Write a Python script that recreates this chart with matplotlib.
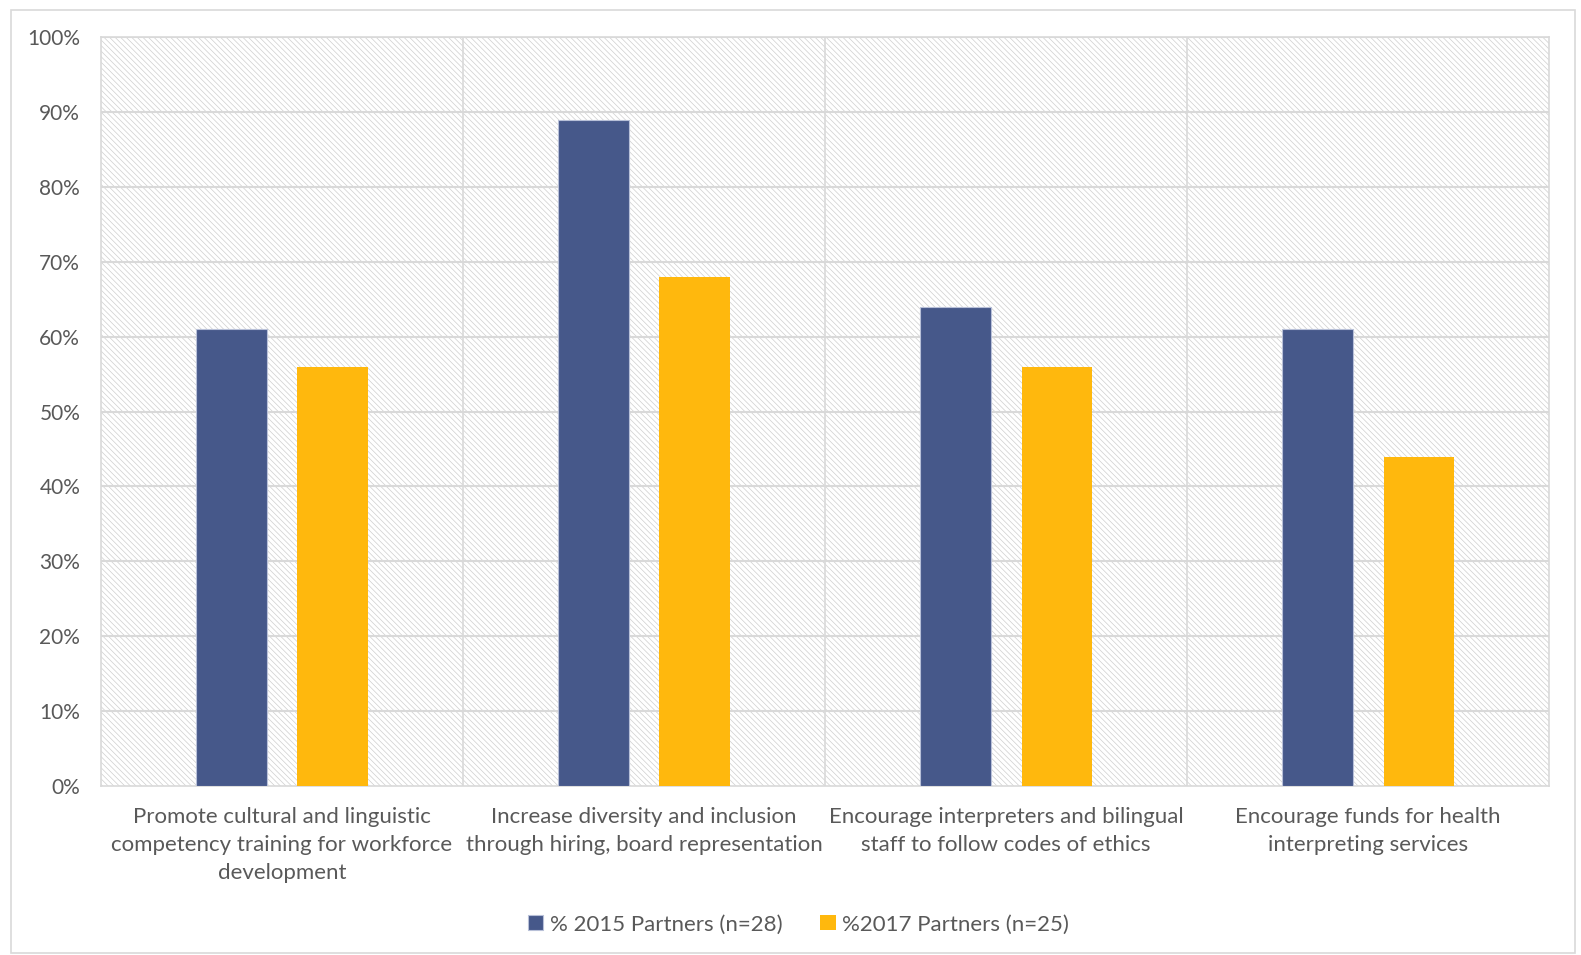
import matplotlib.pyplot as plt
from matplotlib.patches import Rectangle
import numpy as np

plt.rcParams['font.family'] = ['Lato', 'DejaVu Sans']

categories = ["Promote cultural and linguistic\ncompetency training for workforce\ndevelopment",
              "Increase diversity and inclusion\nthrough hiring, board representation",
              "Encourage interpreters and bilingual\nstaff to follow codes of ethics",
              "Encourage funds for health\ninterpreting services"]
pct_2015 = [61, 89, 64, 61]
pct_2017 = [56, 68, 56, 44]
labels = ["% 2015 Partners (n=28)", "%2017 Partners (n=25)"]
colors = ["#46588a", "#ffb80d"]
txt = "#595959"

fig = plt.figure(figsize=(15.81, 9.55), dpi=100)
fig.patches.append(Rectangle((0.007, 0.002), 0.989, 0.988, transform=fig.transFigure,
                             fill=False, edgecolor="#d9d9d9", linewidth=1.2))
ax = fig.add_axes([0.0639, 0.177, 0.916, 0.784])

x = np.arange(len(categories))
w = 0.195
off = 0.14

ax.set_xlim(-0.5, len(categories) - 0.5)
ax.set_ylim(0, 100)

# hatched background
plt.rcParams['hatch.color'] = "#cfcfcf"
plt.rcParams['hatch.linewidth'] = 0.5
ax.add_patch(Rectangle((0, 0), 1, 1, transform=ax.transAxes, facecolor="white",
                       hatch="\\\\\\\\\\\\", edgecolor="#cfcfcf", linewidth=0, zorder=0))

for y in range(10, 101, 10):
    ax.axhline(y, color="#d9d9d9", linewidth=1.5, zorder=1)
for b in np.arange(0.5, len(categories) - 0.5, 1):
    ax.axvline(b, color="#d9d9d9", linewidth=1.2, zorder=1)

ax.bar(x - off, pct_2015, w, color=colors[0], label=labels[0], zorder=3,
       edgecolor="#b8c0d8", linewidth=0.8)
ax.bar(x + off, pct_2017, w, color=colors[1], label=labels[1], zorder=3)

for s in ax.spines.values():
    s.set_color("#d9d9d9")
    s.set_linewidth(1.2)

ax.set_yticks(range(0, 101, 10))
ax.set_yticklabels([f"{v}%" for v in range(0, 101, 10)])
ax.set_xticks(x)
ax.set_xticklabels(categories, linespacing=1.5)
ax.tick_params(length=0, colors=txt)
ax.tick_params(axis='y', pad=15, labelsize=15)
ax.tick_params(axis='x', pad=15, labelsize=16)

fig.legend(loc="center", bbox_to_anchor=(0.505, 0.032), ncol=2, frameon=False,
           fontsize=16, labelcolor=txt, handlelength=0.7, handleheight=0.7,
           handletextpad=0.3, columnspacing=1.7)

fig.savefig("out.png", dpi=100)
